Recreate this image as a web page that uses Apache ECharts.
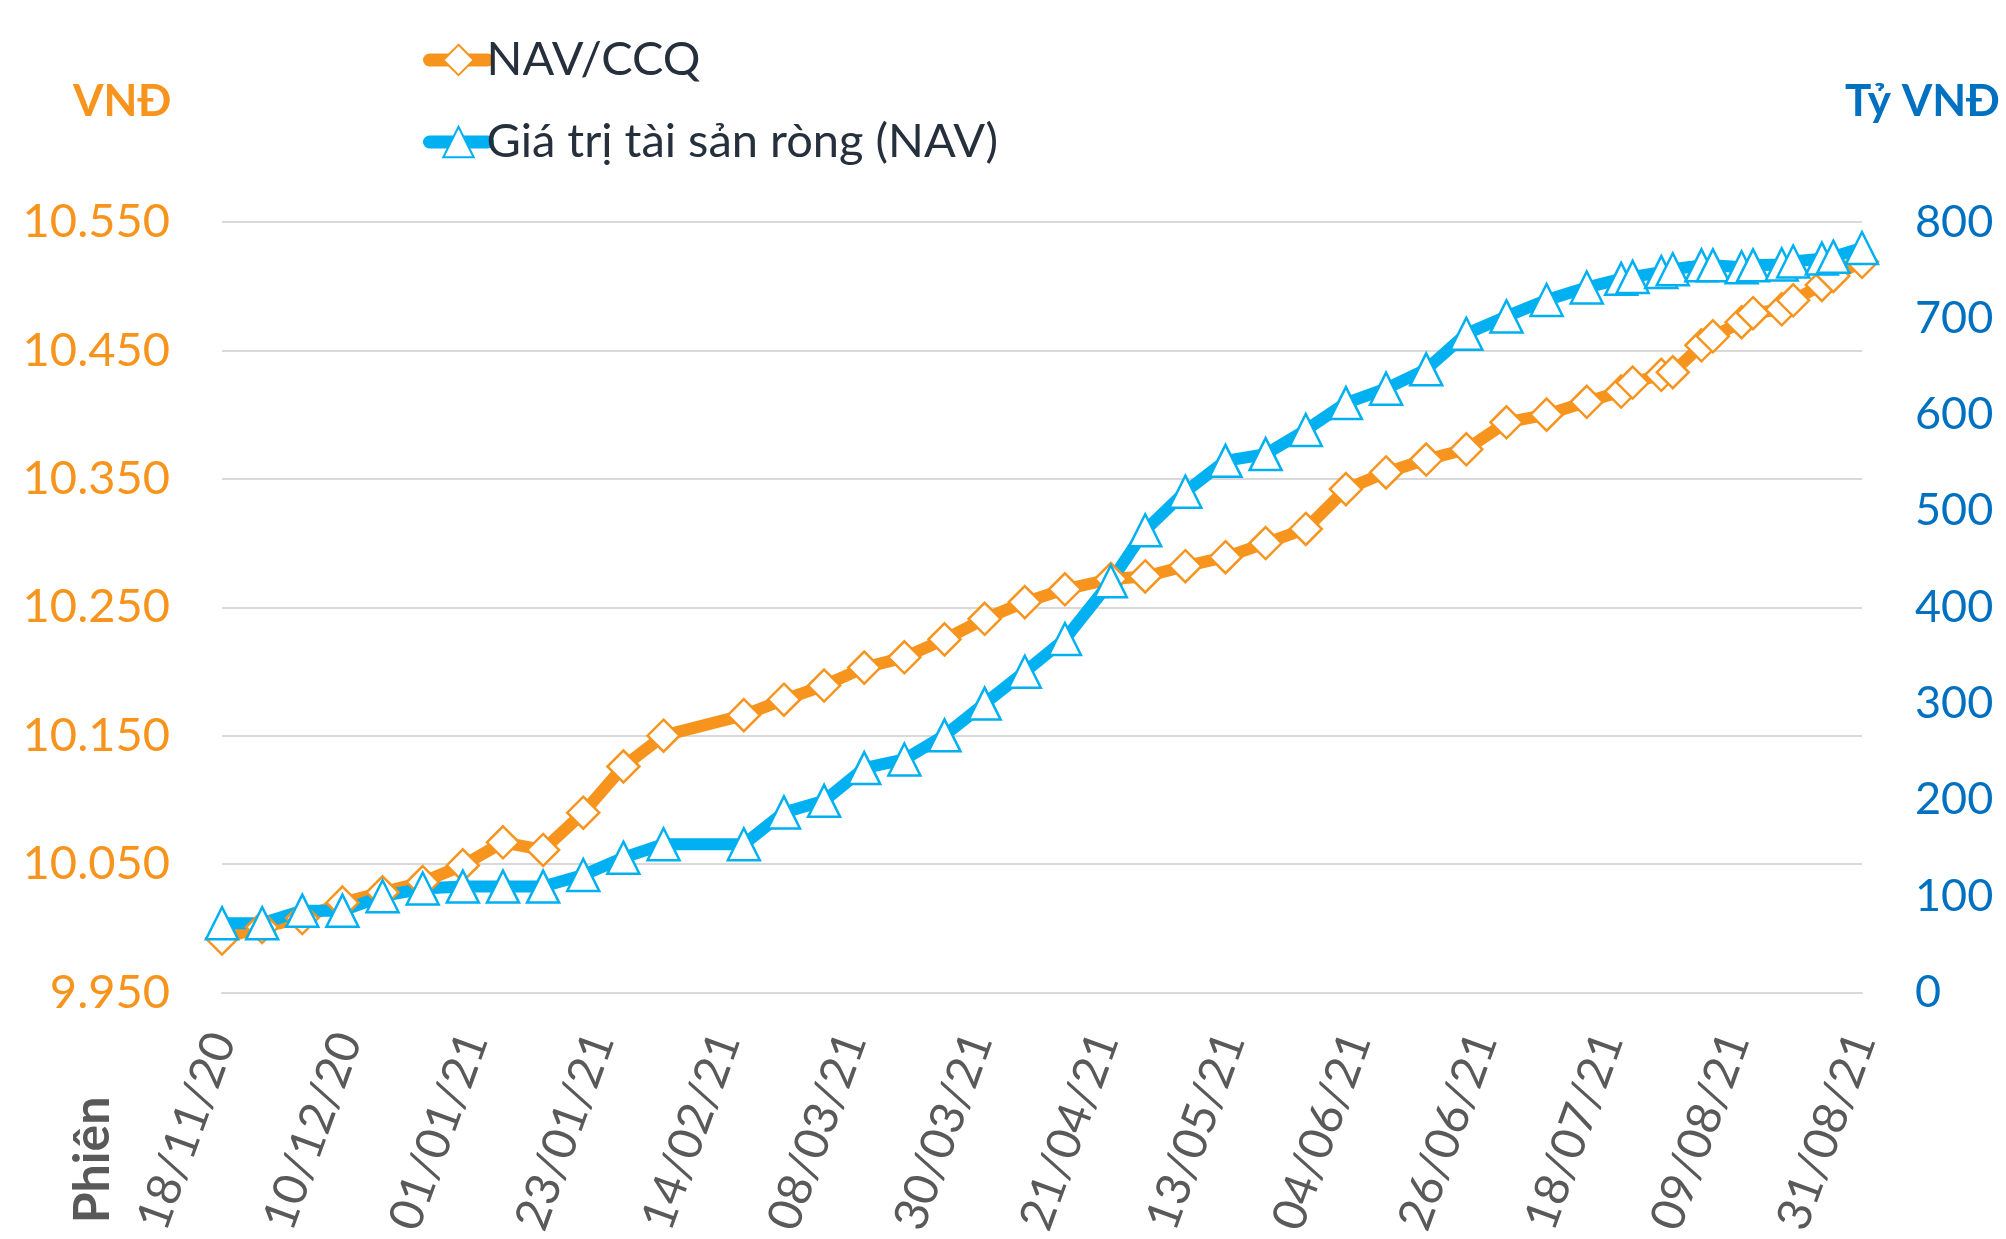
<!DOCTYPE html>
<html>
<head>
<meta charset="utf-8">
<script src="https://cdn.jsdelivr.net/npm/echarts@6/dist/echarts.min.js"></script>
<style>
  html, body { margin: 0; padding: 0; background: #fff; }
  #chart { width: 2006px; height: 1239px; }
</style>
</head>
<body>
<div id="chart"></div>
<script>
// ngày định giá
const dates = [
    '2020-11-18', '2020-11-25', '2020-12-02', '2020-12-09', '2020-12-16', '2020-12-23', '2020-12-30',
    '2021-01-06', '2021-01-13', '2021-01-20', '2021-01-27', '2021-02-03', '2021-02-17', '2021-02-24',
    '2021-03-03', '2021-03-10', '2021-03-17', '2021-03-24', '2021-03-31', '2021-04-07', '2021-04-14',
    '2021-04-22', '2021-04-28', '2021-05-05', '2021-05-12', '2021-05-19', '2021-05-26', '2021-06-02',
    '2021-06-09', '2021-06-16', '2021-06-23', '2021-06-30', '2021-07-07', '2021-07-14', '2021-07-20',
    '2021-07-22', '2021-07-27', '2021-07-29', '2021-08-03', '2021-08-05', '2021-08-10', '2021-08-12',
    '2021-08-17', '2021-08-19', '2021-08-24', '2021-08-26', '2021-08-31'
];
// NAV/CCQ (VNĐ)
const navPerUnit = [
    9992, 10001, 10008, 10020, 10028, 10036, 10049,
    10067, 10061, 10090, 10126, 10150, 10166, 10178,
    10189, 10203, 10211, 10225, 10241, 10254, 10264,
    10272, 10274, 10282, 10289, 10300, 10311, 10342,
    10355, 10365, 10373, 10394, 10400, 10410, 10418,
    10425, 10431, 10433, 10454, 10461, 10472, 10479,
    10482, 10489, 10501, 10508, 10519
];
// Giá trị tài sản ròng (tỷ VNĐ)
const netAssets = [
    72, 72, 85, 85, 100, 108, 110,
    110, 110, 122, 140, 154, 154, 187,
    199, 233, 242, 267, 300, 333, 367,
    427, 480, 520, 552, 559, 584, 612,
    627, 647, 684, 702, 719, 732, 741,
    743, 748, 751, 755, 755, 753, 755,
    756, 759, 762, 764, 773
];
const leftAxis = { min: 9950, max: 10550, interval: 100 };
const rightAxis = { min: 0, max: 800, interval: 100 };
const tickDays = 22;

const ORANGE = '#F7941D';
const BLUE = '#00B0F0';
const DARKBLUE = '#0070C0';
const GRAY = '#595959';
const FONT = 'Lato';

const DAY = 86400000;
const base = Date.UTC(2020, 10, 18);
const dayIndex = s => {
    const [y, m, d] = s.split('-').map(Number);
    return Math.round((Date.UTC(y, m - 1, d) - base) / DAY);
};
const pad = n => (n < 10 ? '0' : '') + n;
const fmtDate = v => {
    const d = new Date(base + v * DAY);
    return pad(d.getUTCDate()) + '/' + pad(d.getUTCMonth() + 1) + '/' + String(d.getUTCFullYear()).slice(2);
};
const fmtThousand = v => String(v).replace(/\B(?=(\d{3})+(?!\d))/g, '.');

const lastDay = dayIndex(dates[dates.length - 1]);

const chart = echarts.init(document.getElementById('chart'));
chart.setOption({
    backgroundColor: '#fff',
    animation: false,
    legend: {
        orient: 'vertical',
        left: 418,
        top: 31,
        itemWidth: 58,
        itemHeight: 38,
        itemGap: 34,
        lineStyle: { width: 13, cap: 'round' },
        textStyle: {
            fontFamily: FONT,
            fontSize: 47,
            lineHeight: 48,
            color: '#26303d',
            padding: [0, 0, 0, -6]
        },
        data: ['NAV/CCQ', 'Giá trị tài sản ròng (NAV)']
    },
    grid: { left: 222, right: 144, top: 222, bottom: 243 },
    xAxis: {
        type: 'value',
        min: 0,
        max: lastDay,
        interval: tickDays,
        axisLine: { show: true, lineStyle: { color: '#d9d9d9', width: 2 } },
        axisTick: { show: false },
        splitLine: { show: false },
        axisLabel: {
            rotate: 70,
            margin: 42,
            fontFamily: FONT,
            fontSize: 47,
            color: GRAY,
            formatter: v => fmtDate(v)
        }
    },
    yAxis: [
        {
            type: 'value',
            min: leftAxis.min,
            max: leftAxis.max,
            interval: leftAxis.interval,
            axisLine: { show: false },
            axisTick: { show: false },
            splitLine: { lineStyle: { color: '#d9d9d9', width: 2 } },
            axisLabel: {
                margin: 52,
                fontFamily: FONT,
                fontSize: 47,
                color: ORANGE,
                formatter: v => fmtThousand(v)
            }
        },
        {
            type: 'value',
            min: rightAxis.min,
            max: rightAxis.max,
            interval: rightAxis.interval,
            axisLine: { show: false },
            axisTick: { show: false },
            splitLine: { show: false },
            axisLabel: {
                margin: 53,
                fontFamily: FONT,
                fontSize: 45,
                color: DARKBLUE
            }
        }
    ],
    graphic: [
        {
            type: 'text', left: 73, top: 80,
            style: { text: 'VNĐ', fontFamily: FONT, fontSize: 44, fontWeight: 'bold', fill: ORANGE }
        },
        {
            type: 'text', right: 6, top: 80,
            style: { text: 'Tỷ VNĐ', fontFamily: FONT, fontSize: 44, fontWeight: 'bold', fill: DARKBLUE }
        },
        {
            type: 'text', x: 93, y: 1160, rotation: Math.PI / 2,
            style: {
                text: 'Phiên', fontFamily: FONT, fontSize: 50, fontWeight: 'bold', fill: GRAY,
                align: 'center', verticalAlign: 'middle'
            }
        }
    ],
    series: [
        {
            name: 'NAV/CCQ',
            type: 'line',
            yAxisIndex: 0,
            data: dates.map((d, i) => [dayIndex(d), navPerUnit[i]]),
            symbol: 'diamond',
            symbolSize: 32,
            showAllSymbol: true,
            lineStyle: { color: ORANGE, width: 12 },
            itemStyle: { color: '#fff', borderColor: ORANGE, borderWidth: 2.5 },
            emphasis: { disabled: true }
        },
        {
            name: 'Giá trị tài sản ròng (NAV)',
            type: 'line',
            yAxisIndex: 1,
            data: dates.map((d, i) => [dayIndex(d), netAssets[i]]),
            symbol: 'triangle',
            symbolSize: 32,
            showAllSymbol: true,
            lineStyle: { color: BLUE, width: 12 },
            itemStyle: { color: '#fff', borderColor: BLUE, borderWidth: 2.5 },
            emphasis: { disabled: true }
        }
    ]
});
</script>
</body>
</html>
